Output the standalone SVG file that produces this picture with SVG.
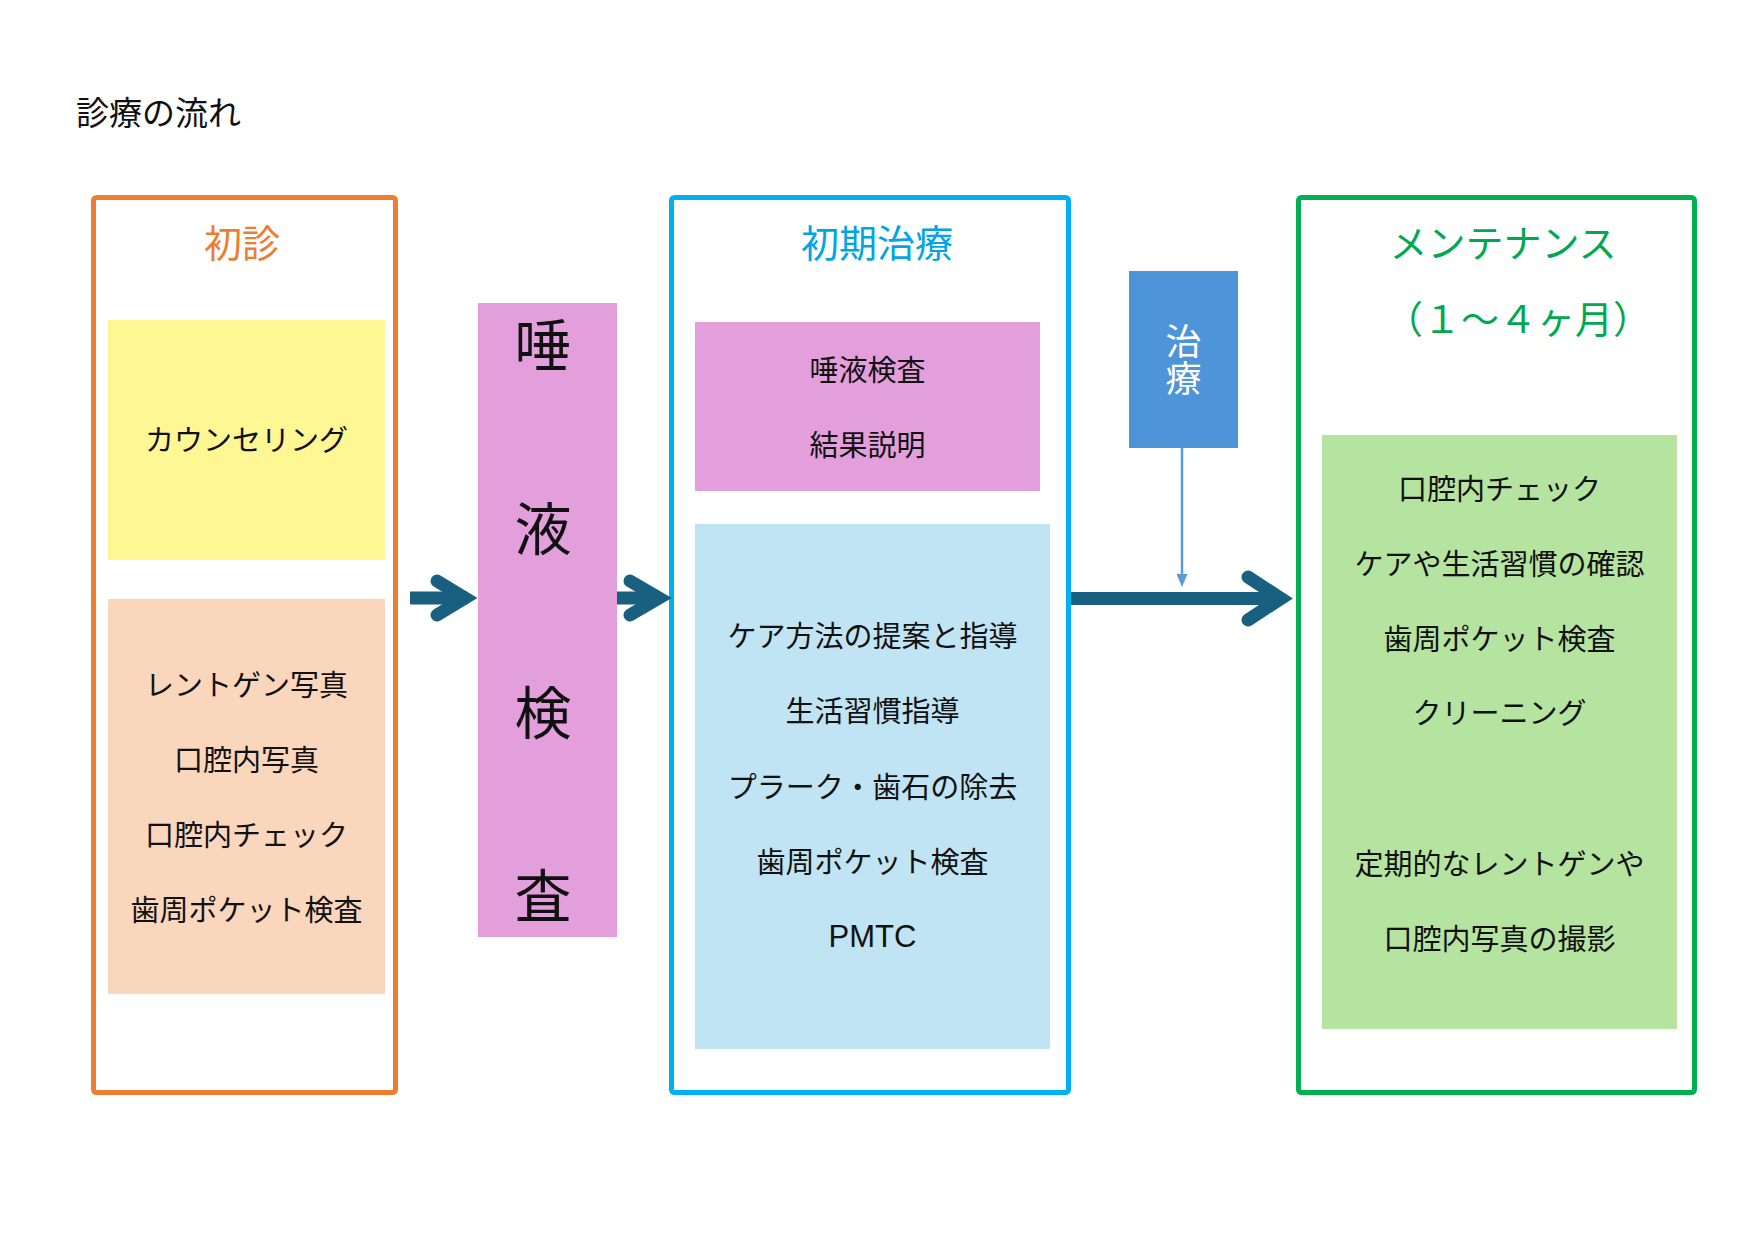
<svg xmlns="http://www.w3.org/2000/svg" width="1755" height="1240" viewBox="0 0 1755 1240">
<style>
  text { font-family: "Noto Sans CJK JP", "Noto Sans", sans-serif; }
  .body { font-size: 29px; fill: #111; text-anchor: middle; }
  .title { font-size: 38px; text-anchor: middle; }
  .big { font-size: 57px; fill: #111; text-anchor: middle; }
  .frame { fill: #fff; stroke-width: 5; }
  .arrow { fill: none; stroke: #185f80; stroke-width: 13; stroke-linecap: round; stroke-linejoin: miter; }
</style>
<rect width="1755" height="1240" fill="#fff"/>
<text x="76" y="125" style="font-size:33px;fill:#111">診療の流れ</text>

<g id="shoshin">
  <rect class="frame" x="93.5" y="197.5" width="302" height="895" rx="3" stroke="#ED7D31"/>
  <text class="title" x="242" y="257" fill="#ED7D31">初診</text>
  <g id="counseling">
    <rect x="108" y="320" width="277" height="240" fill="#FEF793"/>
    <text class="body" x="246.5" y="451">カウンセリング</text>
  </g>
  <g id="exam">
    <rect x="108" y="599" width="277" height="395" fill="#FAD6BD"/>
    <text class="body" x="246.5" y="695.5">レントゲン写真</text>
    <text class="body" x="246.5" y="770.5">口腔内写真</text>
    <text class="body" x="246.5" y="845.5">口腔内チェック</text>
    <text class="body" x="246.5" y="920.5">歯周ポケット検査</text>
  </g>
</g>

<g id="saliva">
  <rect x="478" y="303" width="139" height="634" fill="#E39FDC"/>
  <text class="big" x="543" y="366">唾</text>
  <text class="big" x="543" y="550">液</text>
  <text class="big" x="543" y="734">検</text>
  <text class="big" x="543" y="917">査</text>
</g>

<g id="initial">
  <rect class="frame" x="671.5" y="197.5" width="397" height="895" rx="3" stroke="#00B0F0"/>
  <text class="title" x="877" y="257" fill="#00A5E3">初期治療</text>
  <g id="result">
    <rect x="695" y="322" width="345" height="169" fill="#E39FDC"/>
    <text class="body" x="867.5" y="381">唾液検査</text>
    <text class="body" x="867.5" y="456">結果説明</text>
  </g>
  <g id="guidance">
    <rect x="695" y="524" width="355" height="525" fill="#C1E4F4"/>
    <text class="body" x="872.5" y="647">ケア方法の提案と指導</text>
    <text class="body" x="872.5" y="722">生活習慣指導</text>
    <text class="body" x="872.5" y="797.5">プラーク・歯石の除去</text>
    <text class="body" x="872.5" y="872.5">歯周ポケット検査</text>
    <text class="body" x="872.5" y="947" style="font-family:'Liberation Sans','Noto Sans',sans-serif;font-size:31px">PMTC</text>
  </g>
</g>

<g id="treatment">
  <rect x="1129" y="271" width="109" height="177" fill="#4E94D9"/>
  <text x="1183.5" y="323" style="font-size:36px;fill:#fff;writing-mode:vertical-rl;text-orientation:upright;letter-spacing:1px">治療</text>
</g>

<g id="maintenance">
  <rect class="frame" x="1298.5" y="197.5" width="396" height="895" rx="3" stroke="#00B050"/>
  <text class="title" x="1503" y="257" fill="#00A94F">メンテナンス</text>
  <text class="title" x="1518" y="333" fill="#00A94F">（１～４ヶ月）</text>
  <g id="checkup">
    <rect x="1322" y="435" width="355" height="594" fill="#B5E3A0"/>
    <text class="body" x="1499.5" y="499.5">口腔内チェック</text>
    <text class="body" x="1499.5" y="574.5">ケアや生活習慣の確認</text>
    <text class="body" x="1499.5" y="649.5">歯周ポケット検査</text>
    <text class="body" x="1499.5" y="723.5">クリーニング</text>
    <text class="body" x="1499.5" y="874.5">定期的なレントゲンや</text>
    <text class="body" x="1499.5" y="949.5">口腔内写真の撮影</text>
  </g>
</g>

<g id="connectors">
  <line class="arrow" x1="410" y1="598" x2="467" y2="598" style="stroke-linecap:butt"/>
  <polyline class="arrow" points="437,581 465,598 437,615"/>
  <line class="arrow" x1="617" y1="598" x2="660" y2="598" style="stroke-linecap:butt"/>
  <polyline class="arrow" points="630,581 659,598 630,615"/>
  <line class="arrow" x1="1071" y1="598.5" x2="1283" y2="598.5" style="stroke-linecap:butt"/>
  <polyline class="arrow" points="1248,577 1281,598.5 1248,620"/>
  <line x1="1182" y1="448" x2="1182" y2="576" stroke="#5B9BD5" stroke-width="2.5"/>
  <polygon points="1176.5,574 1187.5,574 1182,587" fill="#5B9BD5"/>
</g>
</svg>
